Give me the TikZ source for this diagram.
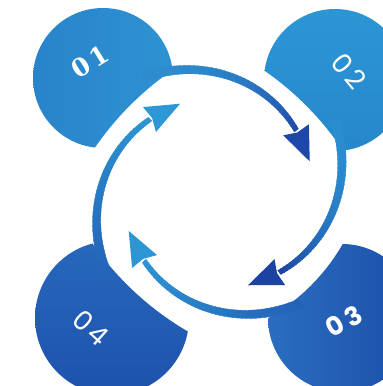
\documentclass[tikz,border=0pt]{standalone}
\usepackage{fontspec}
\usetikzlibrary{calc}
\newfontfamily\slabfont{DejaVu Serif}
\newfontfamily\geofont{Poppins}
\definecolor{aStart}{RGB}{45,140,206}
\definecolor{aEnd}{RGB}{30,72,168}
\definecolor{bStart}{RGB}{42,141,206}
\definecolor{bEnd}{RGB}{28,66,162}
\definecolor{cStart}{RGB}{36,98,182}
\definecolor{cEnd}{RGB}{44,150,212}
\definecolor{dStart}{RGB}{36,100,184}
\definecolor{dEnd}{RGB}{44,152,213}
\definecolor{oneL}{RGB}{40,132,202}
\definecolor{oneR}{RGB}{46,146,210}
\definecolor{twoT}{RGB}{44,150,213}
\definecolor{twoB}{RGB}{38,135,203}
\definecolor{threeL}{RGB}{42,110,192}
\definecolor{threeR}{RGB}{28,78,168}
\definecolor{fourT}{RGB}{38,104,188}
\definecolor{fourB}{RGB}{30,82,172}

\def\cx{218}
\def\cy{193}

% #1 name, #2 x, #3 y, #4 radius, #5 cut direction, #6 cut distance, #7 cut radius, #8 shading
\newcommand\bluedisc[8]{%
  \coordinate (#1) at (#2,#3);
  \shade[#8] (#1) circle[radius=#4];
  \begin{scope}
    \clip (#1) circle[radius=#4+0.6];
    \fill[white] ({\cx-(#7-#6)*cos(#5)},{\cy+(#7-#6)*sin(#5)}) circle[radius=#7];
  \end{scope}
}

% #1 name, #2 start angle, #3 start colour, #4 end colour, #5 gradient exponent
\newcommand\spiralarrow[5]{%
  \foreach \i in {0,...,41}{%
    \pgfmathsetmacro\ta{-12+2*\i}%
    \pgfmathsetmacro\tb{\ta+2.4}%
    \pgfmathtruncatemacro\pc{min(100,100*pow(max((\ta+12)/84,0.001),#5))}%
    \fill[#4!\pc!#3, draw=#4!\pc!#3, line width=0.25pt]
      ({\cx+(rr(\ta)+ww(\ta)/2)*cos(#2-\ta)},{\cy-(rr(\ta)+ww(\ta)/2)*sin(#2-\ta)})
      -- ({\cx+(rr(\tb)+ww(\tb)/2)*cos(#2-\tb)},{\cy-(rr(\tb)+ww(\tb)/2)*sin(#2-\tb)})
      -- ({\cx+(rr(\tb)-ww(\tb)/2)*cos(#2-\tb)},{\cy-(rr(\tb)-ww(\tb)/2)*sin(#2-\tb)})
      -- ({\cx+(rr(\ta)-ww(\ta)/2)*cos(#2-\ta)},{\cy-(rr(\ta)-ww(\ta)/2)*sin(#2-\ta)}) -- cycle;
  }
  \coordinate (#1base) at ({\cx+rr(72)*cos(#2-72)},{\cy-rr(72)*sin(#2-72)});
  \coordinate (#1tip) at ({\cx+97*cos(#2-92)},{\cy-97*sin(#2-92)});
  \fill[#4] (#1tip) -- ($(#1base)!14pt!90:(#1tip)$) -- ($(#1base)!3pt!(#1tip)$)
     -- ($(#1base)!14pt!-90:(#1tip)$) -- cycle;
}

\begin{document}
\begin{tikzpicture}[x=1pt,y=-1pt,
  declare function={
    rr(\t)=97+34*pow(max(1-\t/92,0.001),1.5);
    ww(\t)=9-5*\t/92;
  },
  lbl/.style={text=white, inner sep=0pt, font=\geofont\fontsize{27}{27}\selectfont}]
\useasboundingbox (0,0) rectangle (383,386);
\fill[white] (0,0) rectangle (383,386);

\bluedisc{c1}{103}{78}{70}{135}{124}{300}{left color=oneL, right color=oneR}
\bluedisc{c2}{335}{80}{71}{45}{124}{300}{top color=twoT, bottom color=twoB}
\bluedisc{c3}{342}{318}{74}{-45}{131}{200}{left color=threeL, right color=threeR}
\bluedisc{c4}{112}{318}{77}{-135}{129}{300}{top color=fourT, bottom color=fourB}

\spiralarrow{a}{111}{aStart}{aEnd}{2}
\spiralarrow{b}{20}{bStart}{bEnd}{2}
\spiralarrow{c}{-65}{cStart}{cEnd}{1}
\spiralarrow{d}{-155}{dStart}{dEnd}{1}

\node[lbl, font=\slabfont\bfseries\fontsize{25}{25}\selectfont, rotate=32] (n1) at (90,62) {0\kern3pt1};
\node[lbl, rotate=-50] (n2) at (349,71) {0\kern4pt2};
\node[lbl, font=\geofont\bfseries\fontsize{26}{26}\selectfont, rotate=30] (n3) at (344,321) {0\kern4pt3};
\node[lbl, rotate=-42] (n4) at (91,328) {0\kern4pt4};
\end{tikzpicture}
\end{document}
